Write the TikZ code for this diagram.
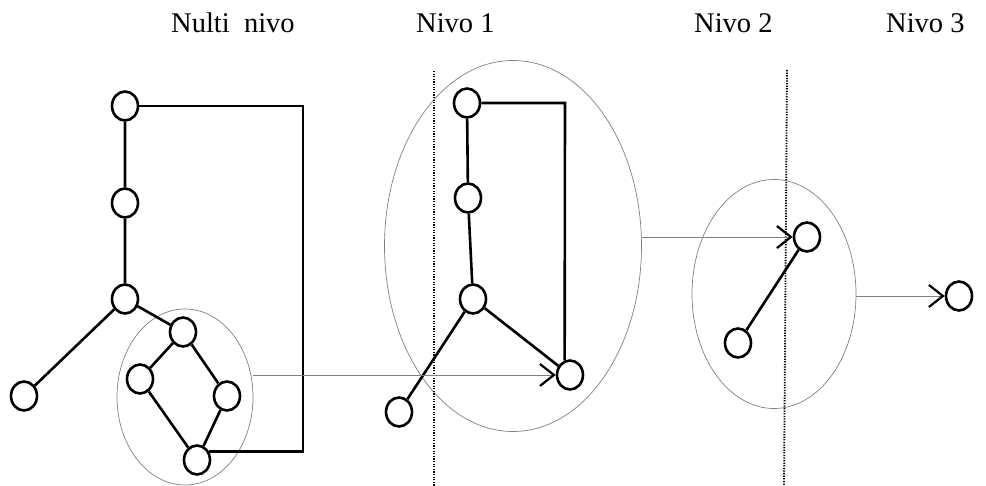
\documentclass[tikz,border=0pt]{standalone}
\usepackage{fontspec}
\setmainfont{Liberation Serif}
\usetikzlibrary{shapes.geometric,arrows.meta}
\tikzset{
	vtx/.style={ellipse,draw,line width=2.6pt,minimum width=26pt,minimum height=29pt,inner sep=0pt},
	grp/.style={ellipse,draw=gray,line width=.7pt,inner sep=0pt},
	edg/.style={line width=2.6pt},
	flow/.style={gray,line width=.8pt,-{Straight Barb[length=14pt,width=22pt,color=black,line width=2.2pt]}},
	lvl/.style={black,line width=1.8pt,dash pattern=on 1.3pt off 1.3pt},
	lbl/.style={anchor=base west,font=\fontsize{28.5}{30}\selectfont,inner sep=0pt}
}
\begin{document}
\begin{tikzpicture}[x=1pt,y=-1pt]
			\useasboundingbox (0,0) rectangle (986,486);
			\node[grp,minimum width=136pt,minimum height=176pt] (g0) at (185,397) {};
			\node[grp,minimum width=257pt,minimum height=371pt] (g1) at (513,246) {};
			\node[grp,minimum width=164pt,minimum height=229pt] (g2) at (774,294) {};
			\draw[lvl] (434,71) -- (434,486);
			\draw[lvl] (787,70) -- (784,486);
			\node[lbl] (t0) at (171,33) {Nulti\ \ nivo};
			\node[lbl] (t1) at (416,33) {Nivo 1};
			\node[lbl] (t2) at (694,33) {Nivo 2};
			\node[lbl] (t3) at (886,33) {Nivo 3};
			\node[vtx] (a) at (125,106) {};
			\node[vtx] (b) at (125,203) {};
			\node[vtx] (c) at (125,299) {};
			\node[vtx] (d) at (24,396) {};
			\node[vtx] (e) at (183,332) {};
			\node[vtx] (f) at (140,379) {};
			\node[vtx] (g) at (227,396) {};
			\node[vtx] (h) at (197,460) {};
			\node[vtx] (i) at (467,103) {};
			\node[vtx] (j) at (468,198) {};
			\node[vtx] (k) at (473,299) {};
			\node[vtx] (l) at (399,412) {};
			\node[vtx] (m) at (570,375) {};
			\node[vtx] (n) at (807,237) {};
			\node[vtx] (o) at (738,343) {};
			\node[vtx] (p) at (959,296) {};
			\coordinate (r0) at (303,106);
			\coordinate (r1) at (565,103);
			\draw[edg] (a) -- (b) -- (c) -- (d);
			\draw[edg] (c) -- (e) -- (f) -- (h) -- (g) -- (e);
			\draw[edg] (h.36) -| (r0) -- (a);
			\draw[edg] (i) -- (j) -- (k) -- (l);
			\draw[edg] (k) -- (m);
			\draw[edg] (i) -- (r1) -- (m.110);
			\draw[edg] (n) -- (o);
			\draw[flow] (m.west -| g0.east) -- (m.west);
			\draw[flow] (n.west -| g1.east) -- (n.west);
			\draw[flow] (p.west -| g2.east) -- (p.west);
\end{tikzpicture}
\end{document}
